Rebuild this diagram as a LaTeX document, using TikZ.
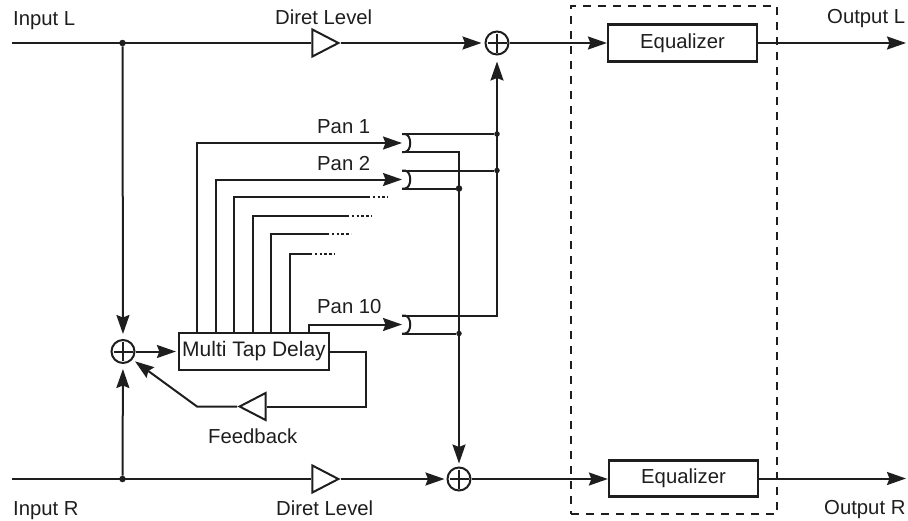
\documentclass[tikz,border=0pt]{standalone}
\usepackage{fontspec}
\setmainfont{Liberation Sans}
\usetikzlibrary{arrows.meta,shapes.geometric,calc}
\definecolor{ink}{HTML}{1E1E1E}
\tikzset{
  wire/.style={draw=ink,line width=2pt,line join=miter},
  arr/.style={wire,-{Stealth[length=19pt,width=13pt,inset=2.5pt]}},
  gain/.style={draw=ink,line width=2pt,isosceles triangle,isosceles triangle stretches,inner sep=0pt,minimum width=27pt,minimum height=26pt},
  sumnode/.style={circle,draw=ink,fill=white,line width=2pt,minimum size=23pt,inner sep=0pt,
    path picture={\draw[ink,line width=2pt] ([yshift=-2pt]path picture bounding box.north) -- ([yshift=2pt]path picture bounding box.south)
      ([xshift=2pt]path picture bounding box.west) -- ([xshift=-2pt]path picture bounding box.east);}},
  blockbox/.style={draw=ink,fill=white,line width=2.2pt,inner sep=0pt},
  jdot/.style={circle,fill=ink,inner sep=0pt,minimum size=6.5pt},
  lab/.style={anchor=base west,inner sep=0pt,text=ink,font=\fontsize{20.3}{24}\selectfont},
  dotline/.style={draw=ink,line width=2pt,dash pattern=on 2.4pt off 2.4pt},
  fxbox/.style={draw=ink,line width=1.6pt,dash pattern=on 8pt off 7pt,inner sep=0pt,minimum width=206pt,minimum height=508pt}
}
\newcommand{\panjoin}[2]{% name, centre y at x=402
  \coordinate (#1u) at (402,#2-9);
  \coordinate (#1l) at (402,#2+9);
  \coordinate (#1m) at (402,#2);
  \draw[wire] (#1u) -- (405,#2-9) .. controls (412,#2-8) and (412,#2+8) .. (405,#2+9) -- (#1l);
}
\begin{document}
\begin{tikzpicture}[x=1pt,y=-1pt]
\useasboundingbox (0,0) rectangle (908,520);
% --- nodes
\node[fxbox] (fx) at (674,260) {};
\node[sumnode] (sumT) at (497,43) {};
\node[sumnode] (sumB) at (459,479) {};
\node[sumnode] (sumL) at (123,351.5) {};
\node[gain,anchor=apex] (gT) at (341,43) {};
\node[gain,anchor=apex] (gB) at (341,479) {};
\node[gain,anchor=apex,shape border rotate=180] (gF) at (237,406.5) {};
\node[blockbox,minimum width=149pt,minimum height=37pt,font=\fontsize{20.3}{24}\selectfont,text=ink] (eqT) at (682.5,43) {Equalizer};
\node[blockbox,minimum width=149pt,minimum height=36pt,font=\fontsize{20.3}{24}\selectfont,text=ink] (eqB) at (683.5,478.5) {Equalizer};
\node[blockbox,minimum width=150pt,minimum height=37pt,font=\fontsize{21}{24}\selectfont,text=ink] (mtd) at (254,351.5) {Multi Tap Delay};
\coordinate (inL) at (12,43);
\coordinate (inR) at (12,479);
\coordinate (outL) at (906,43);
\coordinate (outR) at (906,478.5);
\node[jdot] (jL) at (122.5,43) {};
\node[jdot] (jR) at (122.5,479) {};
\panjoin{pa}{143}
\panjoin{pb}{179.5}
\panjoin{pc}{324.5}
\node[jdot,minimum size=5.5pt] (ja) at (497,134) {};
\node[jdot,minimum size=5.5pt] (jb) at (497,170.5) {};
\node[jdot] (jc) at (459,188.5) {};
\node[jdot,minimum size=5.5pt] (jd) at (459,333.5) {};
% --- labels
\node[lab] (t1) at (13,25) {Input L};
\node[lab] (t2) at (275,24) {Diret Level};
\node[lab] (t3) at (827,23) {Output L};
\node[lab] (t4) at (13,515) {Input R};
\node[lab] (t5) at (276,515) {Diret Level};
\node[lab] (t6) at (824,514) {Output R};
\node[lab] (t7) at (317,133) {Pan 1};
\node[lab] (t8) at (317,170) {Pan 2};
\node[lab] (t9) at (317,313) {Pan 10};
\node[lab] (t10) at (208,443) {Feedback};
% --- main lines
\draw[wire] (inL) -- (gT.lower side);
\draw[arr,shorten >=3pt] (gT.apex) -- (sumT);
\draw[arr] (sumT) -- (eqT);
\draw[arr] (eqT) -- (outL);
\draw[wire] (inR) -- (gB.lower side);
\draw[arr,shorten >=2pt] (gB.apex) -- (sumB);
\draw[arr] (sumB) -- (eqB.west |- sumB);
\draw[arr] (eqB.east) -- (outR);
\draw[arr,shorten >=5pt] (jL) -- (sumL);
\draw[arr,shorten >=5pt] (jR) -- (sumL);
\draw[arr,shorten >=2pt] (sumL) -- (mtd);
% --- feedback
\coordinate (fbc) at (366,351.5);
\coordinate (fbk) at (197,406.5);
\draw[wire] (mtd.east) -- (fbc) |- (gF.lower side);
\draw[arr,shorten >=3pt] (gF.apex) -- (fbk) -- (sumL.-40);
% --- taps
\coordinate (k1) at (197,333);
\coordinate (k2) at (216,333);
\coordinate (k3) at (234,333);
\coordinate (k4) at (253,333);
\coordinate (k5) at (271,333);
\coordinate (k6) at (290,333);
\coordinate (k7) at (309,333);
\draw[arr] (k1) |- (pam);
\draw[arr] (k2) |- (pbm);
\draw[arr] (k7) |- (pcm);
\coordinate (s3) at (368,197);
\coordinate (e3) at (388,197);
\coordinate (s4) at (347,216);
\coordinate (e4) at (372,216);
\coordinate (s5) at (327,234);
\coordinate (e5) at (351,234);
\coordinate (s6) at (310,254);
\coordinate (e6) at (335,254);
\draw[wire] (k3) |- (s3);
\draw[wire] (k4) |- (s4);
\draw[wire] (k5) |- (s5);
\draw[wire] (k6) |- (s6);
\draw[dotline] (s3) -- (e3);
\draw[dotline] (s4) -- (e4);
\draw[dotline] (s5) -- (e5);
\draw[dotline] (s6) -- (e6);
% --- pan outputs
\draw[arr,shorten >=6pt] (pcu) -| (sumT);
\draw[wire] (pau) -- (ja);
\draw[wire] (pbu) -- (jb);
\draw[arr,shorten >=3pt] (pal) -| (sumB);
\draw[wire] (pbl) -- (jc);
\draw[wire] (pcl) -- (jd);
\end{tikzpicture}
\end{document}
